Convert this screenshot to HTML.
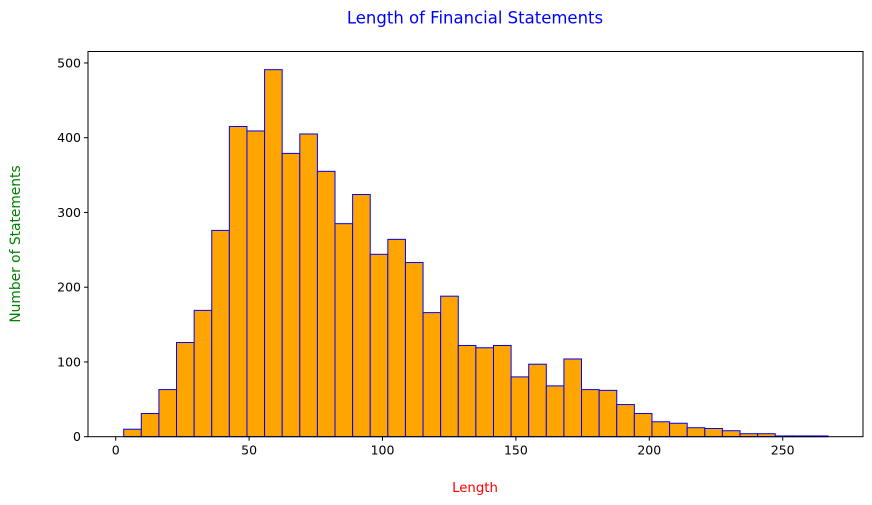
<!DOCTYPE html>
<html><head><meta charset="utf-8"><style>
body{margin:0;background:#fff;}
svg{display:block;font-family:"DejaVu Sans","Liberation Sans",sans-serif;}
</style></head><body>
<svg id="chart" width="872" height="505" viewBox="0 0 872 505">
<text x="475" y="23.5" text-anchor="middle" font-size="16.5" fill="#0000ff">Length of Financial Statements</text>
<text x="475" y="492" text-anchor="middle" font-size="13.3" fill="#ff0000">Length</text>
<text transform="translate(20,244) rotate(-90)" text-anchor="middle" font-size="13.8" fill="#008000">Number of Statements</text>
<g id="bars"></g>
<g id="axes"></g>
</svg>
<script>
const binStart = 3;
const binWidth = 6.6;
const counts = [10,31,63,126,169,276,415,409,491,379,405,355,285,324,244,264,233,166,188,122,119,122,80,97,68,104,63,62,43,31,20,18,12,11,8,4,4,1,1,1];
const xTicks = [0,50,100,150,200,250];
const yTicks = [0,100,200,300,400,500];
const L=88,R=863,T=51.5,B=436.7;
const xs = v => 115.7 + v*2.668;
const ys = v => B - v*0.7475;
const ns="http://www.w3.org/2000/svg";
const bars=document.getElementById('bars'), axes=document.getElementById('axes');
function mk(tag,attrs,parent){const e=document.createElementNS(ns,tag);for(const k in attrs)e.setAttribute(k,attrs[k]);parent.appendChild(e);return e;}
counts.forEach((c,i)=>{
  const x0=xs(binStart+i*binWidth), x1=xs(binStart+(i+1)*binWidth);
  const r=mk('rect',{x:x0,y:ys(c),width:x1-x0,height:B-ys(c),fill:'#ffa500',stroke:'#0000ff','stroke-width':1},bars);
  
  
});
const frame=mk('rect',{x:L,y:T,width:R-L,height:B-T,fill:'none',stroke:'#000','stroke-width':1},axes);


xTicks.forEach(t=>{
  mk('line',{x1:xs(t),x2:xs(t),y1:B,y2:B+4,stroke:'#000'},axes);
  const tx=mk('text',{x:xs(t),y:B+18,'text-anchor':'middle','font-size':12.5,fill:'#000'},axes);
  tx.textContent=t;
  
  
});
yTicks.forEach(t=>{
  mk('line',{x1:L-4,x2:L,y1:ys(t),y2:ys(t),stroke:'#000'},axes);
  const tx=mk('text',{x:L-7,y:ys(t)+4.5,'text-anchor':'end','font-size':12.5,fill:'#000'},axes);
  tx.textContent=t;
  
  
});
</script>
</body></html>
